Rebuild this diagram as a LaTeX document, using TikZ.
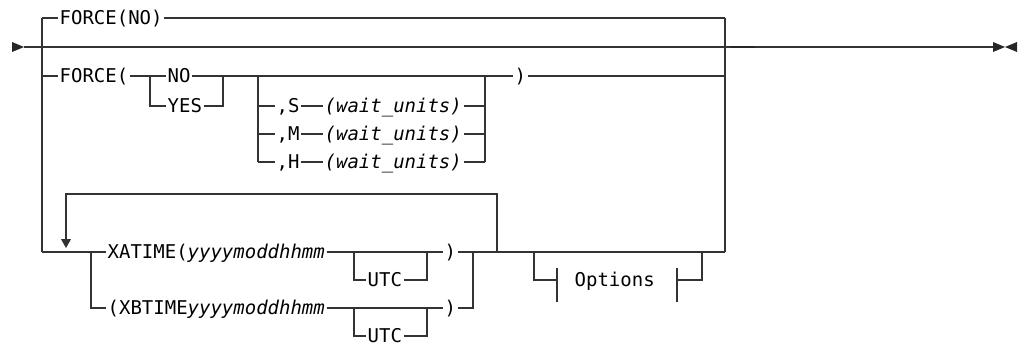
\documentclass[tikz,border=0pt]{standalone}
\usepackage{fontspec}
\setmonofont{DejaVu Sans Mono}
\usetikzlibrary{arrows.meta, positioning}

\begin{document}
\begin{tikzpicture}[
        x=0.025cm, y=-0.025cm,
        rail/.style={draw=black!80, line width=0.8pt},
        word/.style={anchor=west, inner sep=1pt, text height=9.8pt, text depth=0pt, text=black, font=\ttfamily\fontsize{13.5}{16}\selectfont},
        var/.style={word, font=\ttfamily\itshape\fontsize{13.5}{16}\selectfont}
    ]
    \useasboundingbox (0,0) rectangle (1019,350);

    \coordinate (start) at (24,47);
    \coordinate (stop) at (993,47);
    \coordinate (lt) at (42,18);
    \coordinate (lb) at (42,252);
    \coordinate (rt) at (725,18);
    \coordinate (rm) at (725,47);
    \coordinate (rb) at (725,252);
    \coordinate (tick) at (731,47);
    \coordinate (tickend) at (755,47);
    \coordinate (nb) at (150,76);
    \coordinate (ne) at (223,76);
    \coordinate (sb) at (258,76);
    \coordinate (se) at (485,76);
    \coordinate (xj) at (91,252);
    \coordinate (ub) at (354,252);
    \coordinate (ue) at (427,252);
    \coordinate (vb) at (354,308);
    \coordinate (ve) at (427,308);
    \coordinate (xbj) at (473,252);
    \coordinate (loopr) at (497,252);
    \coordinate (loopl) at (66,194);
    \coordinate (looparr) at (66,248);
    \coordinate (ob) at (534,252);
    \coordinate (oe) at (702,252);
    \coordinate (otl) at (557,280);
    \coordinate (otr) at (677,280);

    \node[word] (forceno) at (58,18) {FORCE(NO)};
    \node[word] (forceo) at (58,76) {FORCE(};
    \node[word] (no) at (166,76) {NO};
    \node[word] (yes) at (166,106) {YES};
    \node[word] (s) at (275,106) {,S};
    \node[var] (swait) at (323,106) {(wait\_units)};
    \node[word] (m) at (275,134) {,M};
    \node[var] (mwait) at (323,134) {(wait\_units)};
    \node[word] (h) at (275,162) {,H};
    \node[var] (hwait) at (323,162) {(wait\_units)};
    \node[word] (forcec) at (513,76) {)};
    \node[word] (xa) at (106,252) {XATIME(\textit{yyyymoddhhmm}};
    \node[word] (xautc) at (366,280) {UTC};
    \node[word] (xac) at (443,252) {)};
    \node[word] (xb) at (106,308) {(XBTIME\textit{yyyymoddhhmm}};
    \node[word] (xbutc) at (366,336) {UTC};
    \node[word] (xbc) at (443,308) {)};
    \node[word] (opts) at (573,280) {Options};

    \fill[black!85] (12,42) -- (start) -- (12,52) -- cycle;
    \fill[black!85] (stop) ++(0,-5) -- ++(12,5) -- ++(-12,5) -- cycle;
    \fill[black!85] (1017,42) -- (1005,47) -- (1017,52) -- cycle;

    \draw[rail] (start) -- (rm);
    \draw[rail] (rm) -- (stop);
    \draw[black!85, line width=1.4pt] (tick) -- (tickend);
    \draw[rail] (lt) -- (lb);
    \draw[rail] (rt) -- (rb);
    \draw[rail] (lt) -- (forceno) -- (rt);

    \draw[rail] (lt |- forceo) -- (forceo) -- (nb) -- (no) -- (ne) -- (sb) -- (se) -- (forcec) -- (rm |- forcec);
    \draw[rail] (nb) |- (yes) -| (ne);
    \draw[rail] (sb) -- (sb |- h);
    \draw[rail] (se) -- (se |- hwait);
    \foreach \k in {s,m,h} {
        \draw[rail] (sb |- \k) -- (\k) -- (\k wait) -- (se |- \k wait);
    }

    \draw[rail] (lb) -- (xa) -- (ub) -- (ue) -- (xac) -- (rb);
    \draw[rail] (xj) |- (xb) -- (xbc) -| (xbj);
    \draw[rail] (ub) |- (xautc) -| (ue);
    \draw[rail] (vb) |- (xbutc) -| (ve);
    \draw[rail, -{Triangle[length=6.4pt, width=7pt]}] (loopr) |- (loopl) -- (looparr);

    \draw[rail] (ob) |- (otl);
    \draw[rail] (otl) ++(0,-12) -- ++(0,34);
    \draw[rail] (otr) ++(0,-12) -- ++(0,34);
    \draw[rail] (otr) -| (oe);
\end{tikzpicture}
\end{document}
